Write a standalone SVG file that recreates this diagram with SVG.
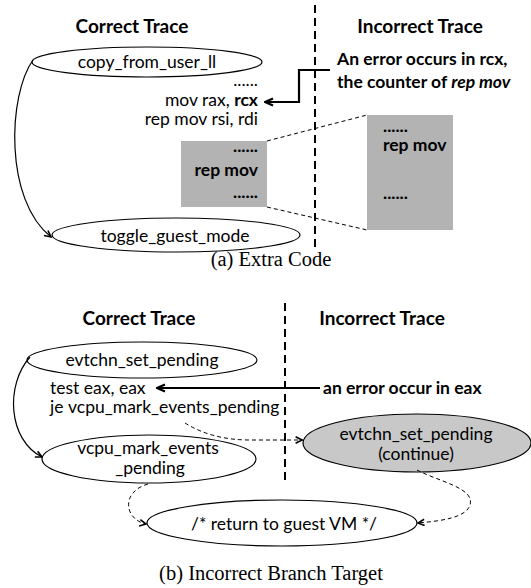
<svg xmlns="http://www.w3.org/2000/svg" width="531" height="588" viewBox="0 0 531 588">
  <style>
    .t { font-family: Lato, "Open Sans", "Liberation Sans", sans-serif; font-size: 17.5px; fill: #000; }
    .b { font-weight: bold; }
    .h { font-family: Lato, "Open Sans", "Liberation Sans", sans-serif; font-size: 19px; font-weight: bold; fill: #000; }
    .cap { font-family: "Liberation Serif", "Times New Roman", serif; font-size: 20.5px; fill: #000; }
    .node { fill: #fff; stroke: #000; stroke-width: 1.2; }
    .grey { fill: #b3b3b3; stroke: none; }
    .gnode { fill: #c8c8c8; stroke: #000; stroke-width: 1.2; }
    .flow { fill: none; stroke: #000; stroke-width: 1.2; }
    .dflow { fill: none; stroke: #000; stroke-width: 1; stroke-dasharray: 4 3; }
    .err { fill: none; stroke: #000; stroke-width: 2.2; }
    .divider { fill: none; stroke: #000; stroke-width: 2; stroke-dasharray: 8 5; }
  </style>
  <defs>
    <marker id="chev" viewBox="0 0 10 10" refX="9" refY="5" markerWidth="8" markerHeight="8" markerUnits="userSpaceOnUse" orient="auto">
      <path d="M1,1 L9,5 L1,9" fill="none" stroke="#000" stroke-width="2"/>
    </marker>
    <marker id="chevBig" viewBox="0 0 10 10" refX="9" refY="5" markerWidth="10" markerHeight="10" markerUnits="userSpaceOnUse" orient="auto">
      <path d="M1,1.5 L9,5 L1,8.5" fill="none" stroke="#000" stroke-width="2.2"/>
    </marker>
  </defs>

  <!-- (a) Extra Code -->
  <text class="h" x="132" y="33" text-anchor="middle">Correct Trace</text>
  <text class="h" x="420" y="33" text-anchor="middle">Incorrect Trace</text>

  <g id="copy_from_user_ll">
    <ellipse class="node" cx="147" cy="62" rx="115" ry="15"/>
    <text class="t" x="147" y="68" text-anchor="middle">copy_from_user_ll</text>
  </g>

  <g id="code_a">
    <text class="t" x="258" y="86" text-anchor="end">......</text>
    <text class="t" x="258" y="106" text-anchor="end">mov rax, <tspan class="b">rcx</tspan></text>
    <text class="t" x="258" y="125" text-anchor="end">rep mov rsi, rdi</text>
  </g>

  <g id="extra_block">
    <rect class="grey" x="181" y="141" width="86" height="66"/>
    <text class="t b" x="258" y="152" text-anchor="end">......</text>
    <text class="t b" x="258" y="176" text-anchor="end">rep mov</text>
    <text class="t b" x="258" y="198" text-anchor="end">......</text>
  </g>

  <g id="toggle_guest_mode">
    <ellipse class="node" cx="176" cy="235" rx="124" ry="17"/>
    <text class="t" x="175" y="242" text-anchor="middle">toggle_guest_mode</text>
  </g>

  <g id="error_rcx">
    <text class="t b" x="337" y="65">An error occurs in rcx,</text>
    <text class="t b" x="337" y="88">the counter of <tspan font-style="italic">rep mov</tspan></text>
  </g>

  <g id="incorrect_block">
    <rect class="grey" x="367" y="115" width="86" height="115"/>
    <text class="t b" x="383" y="132">......</text>
    <text class="t b" x="383" y="151">rep mov</text>
    <text class="t b" x="383" y="199">......</text>
  </g>

  <text class="cap" x="271" y="266" text-anchor="middle">(a) Extra Code</text>

  <!-- (b) Incorrect Branch Target -->
  <text class="h" x="139" y="325" text-anchor="middle">Correct Trace</text>
  <text class="h" x="382" y="325" text-anchor="middle">Incorrect Trace</text>

  <g id="evtchn_set_pending">
    <ellipse class="node" cx="142" cy="360" rx="115" ry="18"/>
    <text class="t" x="142" y="366" text-anchor="middle">evtchn_set_pending</text>
  </g>

  <g id="code_b">
    <text class="t" x="50" y="394">test eax, eax</text>
    <text class="t" x="50" y="413">je<tspan x="68">vcpu_mark_events_pending</tspan></text>
  </g>

  <g id="vcpu_mark_events_pending">
    <ellipse class="node" cx="149" cy="459" rx="107" ry="24"/>
    <text class="t" x="148" y="454" text-anchor="middle">vcpu_mark_events</text>
    <text class="t" x="150" y="474" text-anchor="middle">_pending</text>
  </g>

  <g id="error_eax">
    <text class="t b" x="323" y="394">an error occur in eax</text>
  </g>

  <g id="evtchn_continue">
    <ellipse class="gnode" cx="417" cy="443" rx="114" ry="29"/>
    <text class="t" x="416" y="440" text-anchor="middle">evtchn_set_pending</text>
    <text class="t" x="416" y="460" text-anchor="middle">(continue)</text>
  </g>

  <g id="return_to_guest">
    <ellipse class="node" cx="282" cy="523" rx="135" ry="23"/>
    <text class="t" x="284" y="530" text-anchor="middle">/* return to guest VM */</text>
  </g>

  <text class="cap" x="271" y="580" text-anchor="middle">(b) Incorrect Branch Target</text>

  <!-- connectors -->
  <g id="connectors">
    <path class="divider" d="M315,5 V250"/>
    <path class="divider" d="M285,303 V482"/>

    <path class="flow" d="M33,60 C8,95 4,200 51,237" marker-end="url(#chev)"/>
    <path class="err" d="M330,70 H299 V102 H265" marker-end="url(#chevBig)"/>
    <path class="dflow" d="M267,141 L367,115"/>
    <path class="dflow" d="M267,207 L367,230"/>

    <path class="flow" d="M30,357 C5,385 8,440 42,457" marker-end="url(#chev)"/>
    <path class="err" d="M320,388 H157" marker-end="url(#chevBig)"/>
    <path class="dflow" d="M185,423 Q212,440 250,440 L302,440" marker-end="url(#chev)"/>
    <path class="dflow" d="M148,484 C120,492 125,520 146,524" marker-end="url(#chev)"/>
    <path class="dflow" d="M417,470 C440,482 475,488 470,505 C466,518 440,521 418,523" marker-end="url(#chev)"/>
  </g>
</svg>
